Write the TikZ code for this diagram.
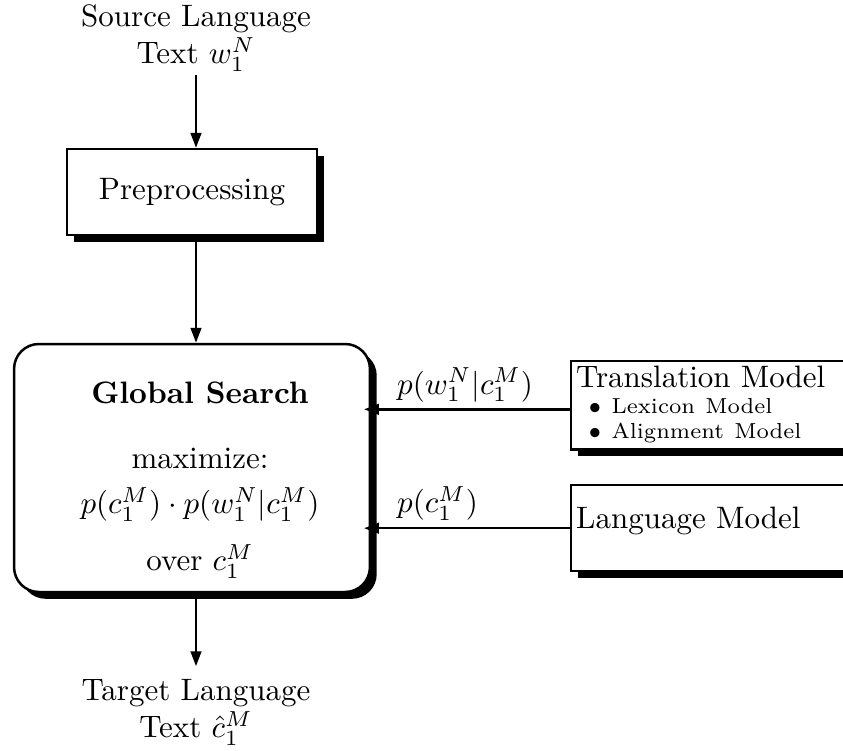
\documentclass[tikz,border=0pt]{standalone}
\usepackage{amsmath,amssymb}
\usepackage{tikz}
\usetikzlibrary{arrows.meta,positioning,calc,shadows}
\tikzset{
  shadowbox/.style={draw,line width=0.8pt,fill=white,
    drop shadow={shadow xshift=2.2pt,shadow yshift=-2.2pt,fill=black,opacity=1}},
  stagebox/.style={shadowbox,minimum width=80.6pt,minimum height=27.7pt},
  searchbox/.style={shadowbox,rounded corners=8pt,minimum width=114.8pt,minimum height=80pt},
  modelbox/.style={shadowbox,anchor=north west,align=left,inner xsep=1.6pt,inner ysep=1.6pt,
    text width=92pt,minimum height=27.7pt},
  flowarrow/.style={-{Triangle[length=4.8pt,width=3.4pt]},line width=0.8pt},
  probarrow/.style={flowarrow,shorten >=-2.3pt},
  textlabel/.style={align=center,inner sep=1pt},
  problabel/.style={anchor=south west,xshift=6pt,inner sep=2pt}
}

\begin{document}
\begin{tikzpicture}[x=0.3226pt,y=-0.3226pt]
  \useasboundingbox (0,0) rectangle (843,751);
  \node[textlabel] (src) at (196,38) {Source Language\\Text $w_1^N$};
  \node[stagebox] (pre) at (192,192) {Preprocessing};
  \node[searchbox] (gs) at (192,468) {};
  \node[align=center] (gstext) at (200,480)
    {\textbf{Global Search}\\[9pt] maximize:\\[2.7pt]
     $p(c_1^M)\cdot p(w_1^N|c_1^M)$\\[6.3pt] over $c_1^M$};
  \node[textlabel] (tgt) at (196,712) {Target Language\\Text $\hat{c}_1^M$};
  \node[modelbox,inner ysep=0pt] (tm) at (570,360) {\begin{tabular}{@{}l@{}}
    Translation Model\\[-3.6pt]
    \scriptsize\hspace{4pt}$\bullet$ Lexicon Model\\[-4pt]
    \scriptsize\hspace{4pt}$\bullet$ Alignment Model
  \end{tabular}};
  \node[modelbox,text height=7pt,text depth=7pt] (lm) at (570,484) {Language Model};
  % main flow
  \draw[flowarrow] (src) -- (src |- pre.north);
  \draw[flowarrow] (pre.south -| src) -- (src |- gs.north);
  \draw[flowarrow,shorten >=2.9pt] (gs.south -| src) -- (tgt);
  % model scores
  \draw[probarrow] ([yshift=-1.3pt]tm.west) -- ([yshift=-1.3pt]tm.west -| gs.east)
    node[problabel,pos=1] {$p(w_1^N|c_1^M)$};
  \draw[probarrow] (lm.west) -- (lm.west -| gs.east)
    node[problabel,pos=1] {$p(c_1^M)$};
\end{tikzpicture}
\end{document}
